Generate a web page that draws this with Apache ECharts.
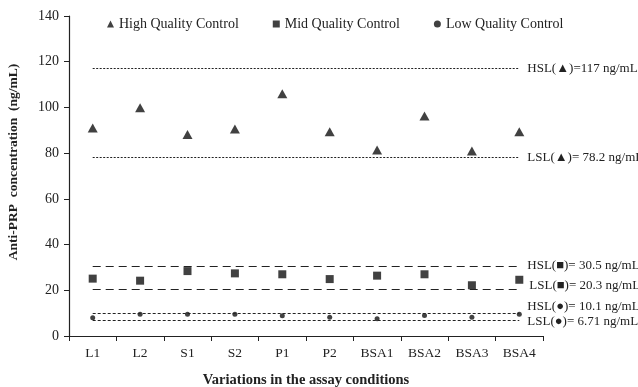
<!DOCTYPE html>
<html><head><meta charset="utf-8">
<script src="https://cdn.jsdelivr.net/npm/echarts@6/dist/echarts.min.js"></script>
<style>html,body{margin:0;padding:0;background:#fff}#c{width:638px;height:387px}</style>
</head><body><div id="c"></div>
<script>
var categories = ['L1','L2','S1','S2','P1','P2','BSA1','BSA2','BSA3','BSA4'];
var highQC = [91.0, 99.9, 88.2, 90.6, 106.0, 89.4, 81.4, 96.2, 80.9, 89.4];
var midQC  = [25.1, 24.2, 28.4, 27.4, 27.0, 24.9, 26.4, 27.0, 22.2, 24.6];
var lowQC  = [8.0, 9.5, 9.5, 9.5, 8.9, 8.2, 7.6, 9.0, 8.2, 9.5];
var highLimits = [117, 78.2];
var midLimits = [30.5, 20.3];
var lowLimits = [10.1, 6.71];
var limitLabels = ['HSL(\u25B2)=117 ng/mL','LSL(\u25B2)= 78.2 ng/mL','HSL(\u25A0)= 30.5 ng/mL','LSL(\u25A0)= 20.3 ng/mL','HSL(\u25CF)= 10.1 ng/mL','LSL(\u25CF)= 6.71 ng/mL'];
var yTicks = [0, 20, 40, 60, 80, 100, 120, 140];

var font = '"Liberation Serif","Times New Roman",serif';
var chart = echarts.init(document.getElementById('c'), null, {renderer:'canvas'});

function ml(value, label, offY, offX) {
  return [{coord:[categories[0], value], symbol:'none'},
          {coord:[categories[categories.length-1], value], symbol:'none',
           label:{show:true, position:'end', formatter:label, fontFamily:font, fontSize:13, color:'#222', distance:8, offset:[offX||0, offY||0]}}];
}
function markLines(vals, labels, dash, width, offs) {
  return {
    silent:true, symbol:['none','none'], animation:false,
    lineStyle:{color:'#222', type:dash, width:width},
    data: vals.map(function(v,i){ return ml(v, labels[i], offs[i][1], offs[i][0]); })
  };
}

chart.setOption({
  animation:false,
  textStyle:{fontFamily:font},
  grid:{left:69, right:95, top:16, bottom:51, containLabel:false, outerBoundsMode:'none'},
  legend:{
    top:12, left:102, itemGap:34, itemWidth:7, itemHeight:7,
    textStyle:{fontFamily:font, fontSize:14, color:'#222'},
    data:[{name:'High Quality Control', icon:'triangle'},{name:'Mid Quality Control', icon:'rect'},{name:'Low Quality Control', icon:'circle'}]
  },
  xAxis:{
    type:'category', data:categories, boundaryGap:true,
    name:'Variations in the assay conditions', nameLocation:'middle', nameGap:37,
    nameTextStyle:{fontFamily:font, fontSize:14.5, fontWeight:'bold', color:'#222'},
    axisLine:{lineStyle:{color:'#222', width:1.2}},
    axisTick:{show:true, length:5, lineStyle:{color:'#222'}},
    axisLabel:{fontFamily:font, fontSize:13.5, color:'#222', margin:10},
    splitLine:{show:false}
  },
  yAxis:{
    type:'value', min:yTicks[0], max:yTicks[yTicks.length-1], interval:20,
    name:'Anti-PRP  concentration  (ng/mL)', nameLocation:'middle', nameGap:48,
    nameTextStyle:{fontFamily:font, fontSize:13.5, fontWeight:'bold', color:'#222', padding:[0,0,0,28]},
    axisLine:{show:true, lineStyle:{color:'#222', width:1.2}},
    axisTick:{show:true, length:5, lineStyle:{color:'#222'}},
    axisLabel:{fontFamily:font, fontSize:14, color:'#222', margin:10},
    splitLine:{show:false}
  },
  series:[
    {name:'High Quality Control', type:'scatter', data:highQC, symbol:'triangle', symbolSize:[10,9],
     itemStyle:{color:'#111'},
     markLine: markLines(highLimits, limitLabels.slice(0,2), [2,1.5], 1, [[0,0],[0,0]])},
    {name:'Mid Quality Control', type:'scatter', data:midQC, symbol:'rect', symbolSize:8,
     itemStyle:{color:'#111'},
     markLine: markLines(midLimits, limitLabels.slice(2,4), [8,5], 1, [[0,-1],[2,-4]])},
    {name:'Low Quality Control', type:'scatter', data:lowQC, symbol:'circle', symbolSize:5,
     itemStyle:{color:'#111'},
     markLine: markLines(lowLimits, limitLabels.slice(4,6), [3,2], 1, [[0,-6],[0,1]])}
  ]
});
</script></body></html>
